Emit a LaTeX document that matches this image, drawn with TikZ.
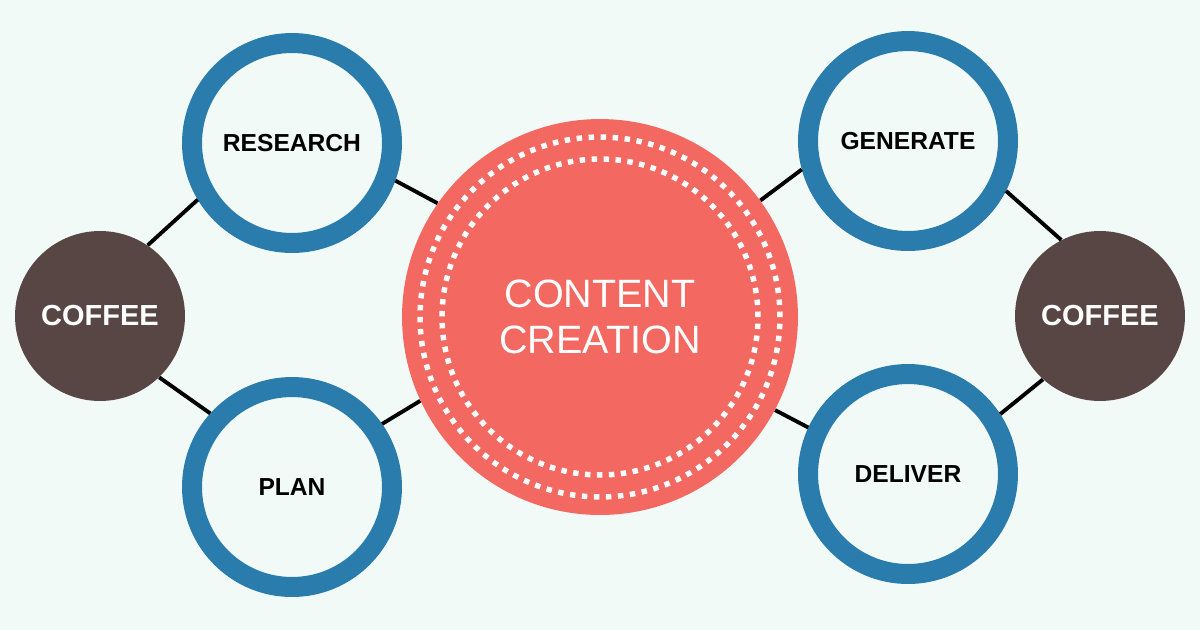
\documentclass[tikz,border=0pt]{standalone}
\usepackage{fontspec}
\setmainfont{Liberation Sans}
\definecolor{bgmint}{RGB}{241,250,247}
\definecolor{ringblue}{RGB}{41,124,171}
\definecolor{coralred}{RGB}{243,105,97}
\definecolor{coffeebrown}{RGB}{88,70,69}
\tikzset{
  stage/.style={circle, draw=ringblue, line width=0.4cm, fill=bgmint, minimum size=4cm, inner sep=0pt,
    font=\fontsize{14}{16}\selectfont\bfseries, text=black},
  coffee/.style={circle, fill=coffeebrown, minimum size=3.4cm, inner sep=0pt,
    font=\fontsize{16.5}{18}\selectfont\bfseries, text=white},
  hub/.style={circle, fill=coralred, minimum size=7.92cm, inner sep=0pt, align=center,
    font=\fontsize{22.5}{26}\selectfont, text=white},
  link/.style={black, line width=2.2pt},
  dots/.style={white, line width=3.1pt}
}
\begin{document}
\begin{tikzpicture}[x=0.02cm, y=-0.02cm]
    \fill[bgmint] (0, 0) rectangle (1200, 630);
    \useasboundingbox (0, 0) rectangle (1200, 630);
    \node[hub] (hub) at (600, 317) {CONTENT\\CREATION};
    \draw[dots, dash pattern=on 3.1pt off 3.7466pt] (hub.center) circle[radius=3.6cm];
    \draw[dots, dash pattern=on 3.1pt off 3.7063pt] (hub.center) circle[radius=3.16cm];
    \node[stage] (research) at (292, 143) {RESEARCH};
    \node[stage] (plan) at (292, 487) {PLAN};
    \node[stage] (generate) at (908, 141) {GENERATE};
    \node[stage] (deliver) at (908, 474) {DELIVER};
    \node[coffee] (coffeeL) at (100, 316) {COFFEE};
    \node[coffee] (coffeeR) at (1100, 316) {COFFEE};
    \draw[link] (coffeeL.56) -- (research.211);
    \draw[link] (coffeeL.-46) -- (plan.138);
    \draw[link] (research.-20) -- (hub.145);
    \draw[link] (plan.35) -- (hub.205);
    \draw[link] (hub.36) -- (generate.195);
    \draw[link] (hub.-28) -- (deliver.155);
    \draw[link] (generate.-27) -- (coffeeR.117);
    \draw[link] (deliver.33) -- (coffeeR.228);
\end{tikzpicture}
\end{document}
